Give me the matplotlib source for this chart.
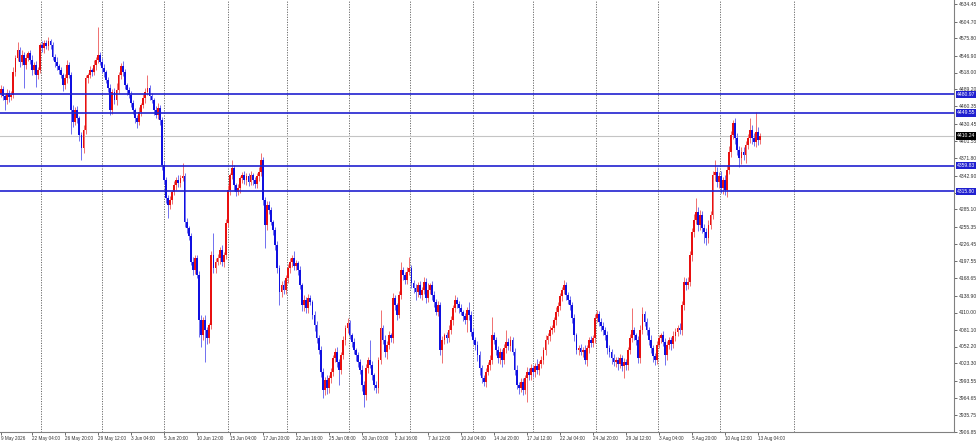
import matplotlib
matplotlib.use('Agg')
import matplotlib.pyplot as plt
import matplotlib.transforms as mtransforms
import numpy as np

# ---------------- data (H4 candles) ----------------
first_open = 4482
closes = [
    4490, 4478, 4471, 4483, 4476, 4480, 4519, 4542, 4556, 4536, 4548, 4531, 4542, 4551, 4539, 4522, 4531, 4513, 4522, 4564,
    4559, 4568, 4563, 4571, 4564, 4544, 4536, 4529, 4522, 4513, 4496, 4508, 4531, 4513, 4454, 4434, 4454, 4440, 4411, 4389,
    4420, 4508, 4513, 4522, 4519, 4531, 4539, 4548, 4536, 4525, 4519, 4505, 4491, 4454, 4485, 4471, 4488, 4513, 4529, 4519,
    4496, 4488, 4480, 4466, 4454, 4440, 4434, 4451, 4462, 4474, 4485, 4491, 4478, 4471, 4454, 4446, 4457, 4437, 4360, 4335,
    4304, 4292, 4301, 4315, 4327, 4335, 4330, 4338, 4342, 4264, 4253, 4240, 4196, 4182, 4202, 4174, 4097, 4071, 4097, 4080,
    4066, 4088, 4207, 4185, 4196, 4202, 4216, 4196, 4207, 4262, 4318, 4343, 4355, 4326, 4315, 4321, 4338, 4343, 4335, 4342,
    4332, 4343, 4335, 4328, 4342, 4349, 4369, 4301, 4259, 4292, 4284, 4264, 4250, 4224, 4185, 4145, 4157, 4148, 4168, 4185,
    4196, 4202, 4189, 4194, 4182, 4156, 4122, 4131, 4117, 4134, 4128, 4106, 4088, 4066, 4046, 4009, 3978, 3995, 3981, 3998,
    4009, 4032, 4043, 4026, 4012, 4037, 4063, 4083, 4092, 4071, 4060, 4046, 4037, 4026, 4012, 3987, 3970, 4015, 4029, 4021,
    4003, 3987, 3981, 4029, 4083, 4063, 4043, 4055, 4071, 4066, 4134, 4122, 4106, 4140, 4182, 4174, 4165, 4179, 4185, 4160,
    4151, 4145, 4156, 4140, 4148, 4162, 4134, 4148, 4156, 4140, 4128, 4111, 4122, 4046, 4063, 4071, 4066, 4080, 4097, 4117,
    4131, 4124, 4117, 4111, 4104, 4097, 4114, 4106, 4077, 4063, 4055, 4037, 4015, 3998, 3992, 4009, 4021, 4029, 4071, 4063,
    4046, 4032, 4043, 4029, 4049, 4060, 4053, 4063, 4043, 4012, 3987, 3981, 3992, 3978, 3998, 4009, 4003, 4015, 4009, 4019,
    4012, 4022, 4029, 4046, 4063, 4070, 4080, 4083, 4097, 4111, 4121, 4138, 4148, 4156, 4140, 4131, 4122, 4100, 4071, 4046,
    4049, 4043, 4046, 4029, 4049, 4063, 4058, 4066, 4100, 4107, 4094, 4087, 4080, 4071, 4049, 4043, 4032, 4026, 4029, 4022,
    4032, 4019, 4026, 4021, 4046, 4066, 4080, 4071, 4063, 4032, 4080, 4107, 4094, 4080, 4063, 4049, 4036, 4029, 4055, 4066,
    4071, 4060, 4037, 4055, 4063, 4056, 4070, 4077, 4083, 4080, 4122, 4162, 4156, 4162, 4207, 4247, 4267, 4281, 4259, 4275,
    4253, 4247, 4236, 4259, 4275, 4343, 4349, 4332, 4342, 4321, 4335, 4318, 4352, 4383, 4411, 4432, 4406, 4386, 4372, 4383,
    4377, 4395, 4406, 4420, 4406, 4400, 4417, 4403, 4410,
]
wick_up = [
    6, 5, 4, 7, 5, 6, 8, 5, 14, 6, 9, 5, 7, 4, 6, 8, 5, 7, 6, 5,
    7, 5, 6, 7, 4, 6, 5, 8, 4, 6, 5, 7, 9, 5, 6, 8, 5, 7, 4, 6,
    8, 6, 5, 7, 4, 9, 6, 47, 5, 6, 7, 4, 6, 8, 5, 7, 12, 6, 5, 8,
    5, 4, 6, 7, 5, 4, 6, 8, 5, 7, 6, 22, 5, 6, 4, 7, 9, 5, 6, 8,
    5, 6, 7, 4, 6, 5, 8, 6, 22, 5, 7, 4, 6, 8, 5, 6, 7, 9, 5, 8,
    6, 5, 8, 38, 6, 7, 5, 8, 6, 7, 9, 5, 14, 6, 5, 7, 4, 6, 8, 5,
    6, 7, 4, 5, 6, 8, 12, 6, 5, 7, 8, 5, 4, 6, 7, 5, 6, 8, 5, 7,
    6, 5, 12, 6, 4, 7, 5, 8, 6, 7, 5, 4, 6, 8, 5, 7, 6, 5, 8, 6,
    7, 5, 6, 8, 5, 6, 7, 5, 8, 6, 5, 7, 4, 6, 5, 8, 6, 7, 5, 34,
    6, 5, 7, 6, 31, 5, 8, 6, 7, 5, 9, 6, 5, 7, 14, 6, 5, 8, 19, 6,
    5, 7, 6, 8, 5, 9, 6, 12, 5, 7, 6, 5, 8, 6, 7, 5, 6, 8, 7, 6,
    9, 5, 6, 7, 4, 6, 5, 14, 6, 7, 5, 6, 8, 5, 6, 7, 5, 8, 31, 6,
    5, 7, 6, 5, 8, 20, 6, 7, 5, 6, 8, 5, 7, 6, 5, 8, 6, 7, 5, 6,
    12, 5, 7, 6, 8, 5, 7, 6, 5, 8, 7, 6, 5, 9, 6, 5, 7, 6, 8, 5,
    6, 7, 5, 8, 6, 5, 7, 6, 8, 7, 5, 6, 7, 5, 8, 6, 5, 7, 6, 5,
    8, 6, 7, 5, 6, 8, 37, 6, 5, 7, 8, 12, 6, 7, 5, 8, 6, 5, 7, 6,
    5, 8, 6, 7, 5, 6, 8, 7, 6, 9, 7, 8, 6, 9, 8, 7, 10, 23, 8, 9,
    7, 8, 6, 9, 7, 8, 20, 9, 7, 8, 6, 9, 8, 10, 7, 5, 8, 9, 7, 8,
    9, 7, 8, 20, 8, 9, 34, 8, 6,
]
wick_dn = [
    5, 7, 17, 6, 8, 5, 6, 7, 5, 8, 6, 40, 7, 5, 6, 8, 7, 20, 6, 5,
    6, 8, 5, 7, 6, 5, 8, 6, 7, 5, 9, 6, 7, 5, 40, 8, 6, 7, 9, 20,
    7, 6, 8, 5, 7, 6, 8, 5, 6, 7, 8, 5, 6, 9, 7, 6, 8, 5, 6, 7,
    6, 8, 5, 7, 6, 8, 11, 6, 7, 5, 8, 6, 7, 5, 8, 6, 7, 9, 8, 7,
    8, 22, 6, 7, 5, 8, 6, 7, 5, 9, 8, 7, 6, 8, 7, 6, 29, 20, 8, 54,
    9, 7, 6, 8, 7, 6, 9, 7, 8, 6, 7, 8, 6, 9, 7, 6, 8, 7, 6, 8,
    7, 6, 8, 7, 6, 8, 7, 9, 40, 8, 7, 6, 9, 8, 7, 23, 8, 7, 6, 8,
    7, 8, 6, 7, 8, 6, 9, 10, 7, 8, 6, 7, 9, 8, 7, 9, 14, 8, 10, 7,
    8, 7, 6, 9, 25, 7, 6, 8, 7, 6, 8, 7, 9, 8, 7, 10, 21, 8, 7, 6,
    8, 9, 7, 8, 6, 7, 9, 12, 7, 6, 8, 7, 9, 6, 7, 8, 6, 7, 5, 8,
    7, 14, 8, 6, 9, 7, 8, 6, 7, 9, 8, 6, 7, 9, 22, 7, 8, 6, 7, 8,
    6, 7, 8, 6, 9, 7, 20, 8, 7, 6, 8, 9, 12, 8, 7, 9, 6, 8, 7, 6,
    8, 7, 9, 12, 6, 8, 7, 9, 6, 8, 7, 9, 6, 8, 7, 40, 8, 7, 9, 8,
    7, 8, 6, 7, 9, 6, 8, 7, 6, 8, 7, 6, 9, 7, 8, 6, 7, 8, 9, 7,
    8, 6, 9, 7, 10, 8, 6, 7, 8, 6, 7, 9, 8, 7, 9, 8, 10, 7, 8, 9,
    7, 8, 21, 9, 8, 7, 6, 8, 9, 7, 8, 6, 7, 9, 8, 7, 10, 8, 7, 6,
    8, 7, 17, 8, 7, 9, 6, 8, 7, 6, 9, 7, 8, 6, 7, 9, 8, 7, 10, 8,
    7, 19, 12, 8, 7, 6, 9, 8, 10, 7, 9, 8, 12, 7, 8, 6, 9, 8, 15, 9,
    8, 12, 7, 8, 9, 7, 8, 9, 6,
]

price_ticks = [4634.45, 4604.70, 4575.80, 4546.90, 4518.00, 4489.20, 4460.35, 4430.45,
               4401.55, 4371.80, 4342.90, 4314.00, 4285.10, 4255.35, 4226.45, 4197.55,
               4168.65, 4138.90, 4110.00, 4081.10, 4052.20, 4023.30, 3993.55, 3964.65,
               3935.75, 3906.85]
level_prices = [4480.97, 4449.55, 4359.83, 4315.80]
current_price = 4410.24

time_labels = ["9 May 2026", "22 May 04:00", "26 May 20:00", "29 May 12:00", "3 Jun 04:00",
               "5 Jun 20:00", "10 Jun 12:00", "15 Jun 04:00", "17 Jun 20:00", "22 Jun 16:00",
               "25 Jun 08:00", "30 Jun 00:00", "2 Jul 16:00", "7 Jul 12:00", "10 Jul 04:00",
               "14 Jul 20:00", "17 Jul 12:00", "22 Jul 04:00", "24 Jul 20:00", "29 Jul 12:00",
               "3 Aug 04:00", "5 Aug 20:00", "10 Aug 12:00", "13 Aug 04:00"]
time_label_bars = [0, 15, 31, 47, 63, 79, 95, 111, 127, 143, 159, 175, 191, 207, 223,
                   239, 255, 271, 287, 303, 319, 335, 351, 367]
week_start_bars = [19.4, 49.0, 79.0, 110.1, 138.7, 168.7, 198.3, 228.8, 257.9,
                   288.5, 318.5, 348.6, 384.5]

# ---------------- figure ----------------
W, H = 976, 441
fig = plt.figure(figsize=(W / 100, H / 100), dpi=100)
fig.patch.set_facecolor('white')
ax = fig.add_axes([0, 9 / H, 954 / W, 432 / H])
ax.set_facecolor('white')

FONT = 'Liberation Sans'
BULL = '#e81010'
BEAR = '#1010e0'
LEVEL = '#2020d0'

c = np.array(closes, dtype=float)
o = np.concatenate([[first_open], c[:-1]])
hi = np.maximum(o, c) + np.array(wick_up)
lo = np.minimum(o, c) - np.array(wick_dn)
x = np.arange(len(c))
bull = c >= o
cols = np.where(bull, BULL, BEAR)
wick_cols = np.where(bull, '#f07070', '#7070f0')

ax.vlines(x, lo, hi, colors=wick_cols, linewidth=0.7, zorder=2)
ax.bar(x, np.maximum(np.abs(c - o), 1.5), bottom=np.minimum(o, c), width=0.9,
       color=cols, linewidth=0, zorder=3)

# period separators
for s in week_start_bars:
    ax.axvline(s, color='#6a6a6a', linewidth=0.7, linestyle=(0, (1.2, 1.4)), zorder=1)

# current price line
ax.axhline(current_price, color='#c4c4c4', linewidth=0.8, zorder=1)
# horizontal levels
for p in level_prices:
    ax.axhline(p, color=LEVEL, linewidth=1.2, zorder=4)

ax.set_xlim(-0.485, 462.06)
ax.set_ylim(3906.85, 4641.25)

for sp in ['left', 'top']:
    ax.spines[sp].set_visible(False)
for sp in ['right', 'bottom']:
    ax.spines[sp].set_color('#808080')
    ax.spines[sp].set_linewidth(0.8)

ax.yaxis.tick_right()
ax.set_yticks(price_ticks)
ax.set_yticklabels(['%.2f' % v for v in price_ticks], fontsize=3.6, family=FONT)
ax.tick_params(axis='y', length=2, width=0.6, pad=1.2, colors='#555555', labelcolor='#333333')

ax.set_xticks(time_label_bars)
ax.set_xticklabels(time_labels, fontsize=3.3, family=FONT)
for lbl in ax.get_xticklabels():
    lbl.set_horizontalalignment('left')
ax.tick_params(axis='x', length=2, width=0.6, pad=1.0, colors='#555555', labelcolor='#333333')

trans = mtransforms.blended_transform_factory(ax.transAxes, ax.transData)
for p in level_prices:
    ax.text(1.003, p, '%.2f' % p, transform=trans, ha='left', va='center',
            fontsize=3.6, family=FONT, color='white', clip_on=False, zorder=6,
            bbox=dict(boxstyle='square,pad=0.25', fc=LEVEL, ec='none'))
ax.text(1.003, current_price, '%.2f' % current_price, transform=trans, ha='left', va='center',
        fontsize=3.6, family=FONT, color='white', clip_on=False, zorder=6,
        bbox=dict(boxstyle='square,pad=0.25', fc='black', ec='none'))

fig.savefig('out.png', dpi=100, facecolor='white')
